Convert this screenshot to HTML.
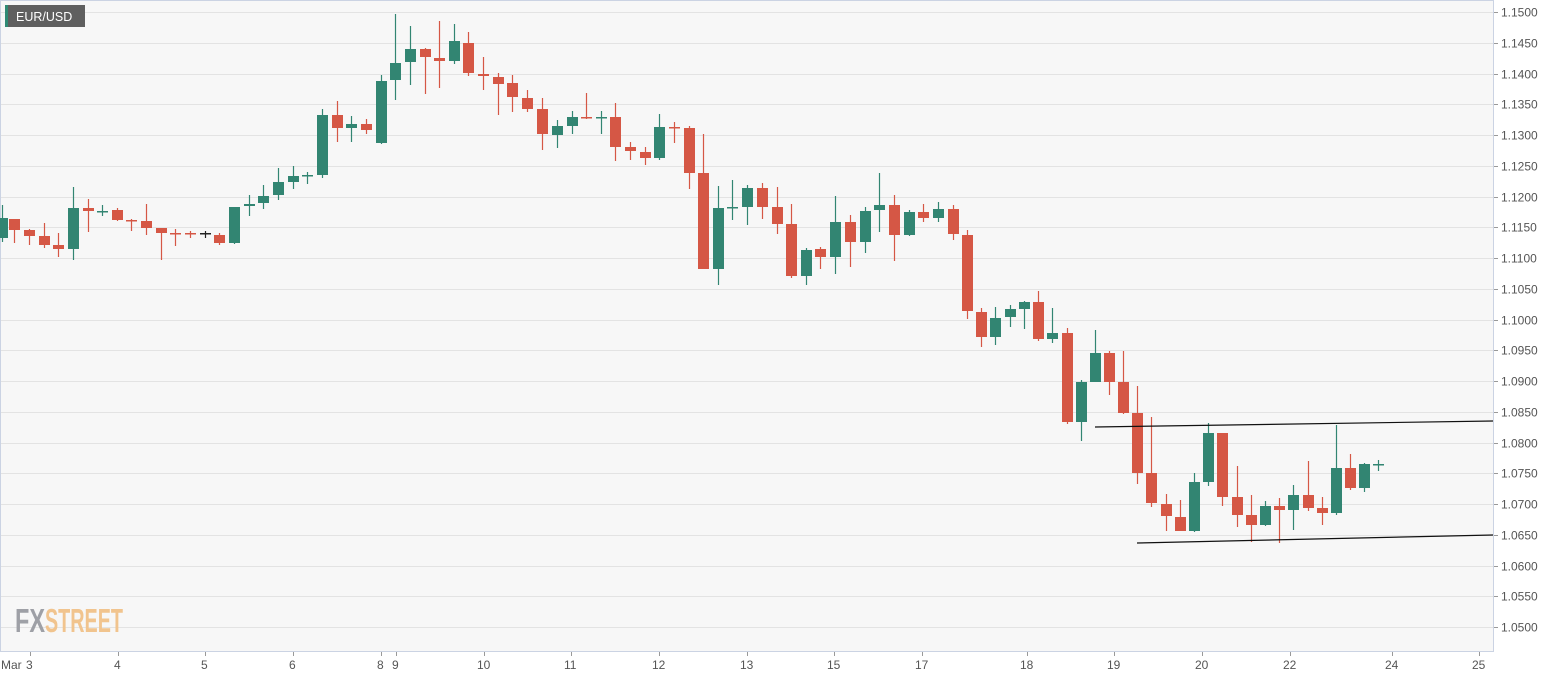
<!DOCTYPE html>
<html><head><meta charset="utf-8"><style>
html,body{margin:0;padding:0;background:#fff;}
svg{display:block;font-family:"Liberation Sans",sans-serif;}
</style></head><body>
<svg id="s" width="1565" height="678" xmlns="http://www.w3.org/2000/svg">
<rect x="0" y="0" width="1565" height="678" fill="#fff"/>
<rect x="0.5" y="0.5" width="1493" height="651" fill="#f7f7f7" stroke="#cbd3e3"/>
<g id="grid"></g>
<text x="15" y="632" font-size="33" font-weight="bold" fill="#9ea0a6" textLength="30" lengthAdjust="spacingAndGlyphs">FX</text>
<text x="45" y="632" font-size="33" font-weight="bold" fill="#f1c48e" textLength="78" lengthAdjust="spacingAndGlyphs">STREET</text>
<g id="c"></g>
<line x1="1095" y1="427" x2="1493" y2="421" stroke="#111" stroke-width="1.2"/>
<line x1="1137" y1="543" x2="1493" y2="535" stroke="#111" stroke-width="1.2"/>
<rect x="5" y="5" width="80" height="22" fill="#5f5f5f"/>
<rect x="5" y="5" width="3" height="22" fill="#2f8a74"/>
<text x="16" y="21" font-size="12.5" fill="#fff">EUR/USD</text>
<g id="ax" font-size="12" fill="#555"></g>
</svg>
<script>
var ns="http://www.w3.org/2000/svg";
function el(p,t,a,txt){var e=document.createElementNS(ns,t);for(var k in a)e.setAttribute(k,a[k]);if(txt)e.textContent=txt;document.getElementById(p).appendChild(e);}
for(var i=0;i<=20;i++){var y=12+i*30.75;var yy=Math.round(y)+0.5;
el('grid','line',{x1:1,x2:1493,y1:yy,y2:yy,stroke:'#e3e3e3'});
el('ax','line',{x1:1494,x2:1498,y1:yy,y2:yy,stroke:'#999'});
el('ax','text',{x:1501,y:yy+4},(1.15-i*0.005).toFixed(4));}
var xl=[["Mar",1],["3",26],["4",114],["5",201],["6",289],["8",377],["9",392],["10",477],["11",564],["12",652],["13",740],["15",827],["17",915],["18",1020],["19",1107],["20",1195],["22",1283],["24",1385],["25",1472]];
var tk=[30,118,205,293,381,396,484,571,659,747,834,922,1027,1114,1202,1290,1392,1479];
tk.forEach(function(x){el('ax','line',{x1:x+.5,x2:x+.5,y1:652,y2:656,stroke:'#999'});});
xl.forEach(function(a){el('ax','text',{x:a[1],y:669},a[0]);});
var C=[[2,205,218,238,242,'g'],[14,219,219,230,243,'r'],[29,229,230,236,245,'r'],[44,223,236,245,248,'r'],[58,233,245,249,257,'r'],[73,187,208,249,260,'g'],[88,199,208,211,232,'r'],[102,205,211,212,216,'g'],[117,208,210,220,221,'r'],[131,219,220,221,231,'r'],[146,204,221,228,235,'r'],[161,228,228,233,260,'r'],[175,229,233,234,246,'r'],[190,231,233,234,238,'r'],[205,231,233,234,238,'k'],[219,233,235,243,245,'r'],[234,207,207,243,244,'g'],[249,195,204,206,216,'g'],[263,185,196,203,209,'g'],[278,168,182,195,200,'g'],[293,166,176,182,189,'g'],[307,172,175,176,184,'g'],[322,109,115,175,178,'g'],[337,101,115,128,142,'r'],[351,116,124,128,142,'g'],[366,119,124,130,134,'r'],[381,75,81,143,144,'g'],[395,14,63,80,100,'g'],[410,26,49,62,85,'g'],[425,48,49,57,94,'r'],[439,21,58,61,88,'r'],[454,24,41,61,64,'g'],[468,32,43,73,76,'r'],[483,57,74,76,90,'r'],[498,73,77,84,115,'r'],[512,75,83,97,112,'r'],[527,90,98,109,112,'r'],[542,98,109,134,150,'r'],[557,120,126,135,148,'g'],[572,111,117,126,134,'g'],[586,93,117,118,119,'r'],[601,111,117,118,134,'g'],[615,103,117,147,161,'r'],[630,142,147,151,160,'r'],[645,147,152,158,165,'r'],[659,114,127,158,160,'g'],[674,122,127,128,143,'r'],[689,126,128,173,189,'r'],[703,134,173,269,269,'r'],[718,186,208,269,285,'g'],[732,180,207,208,220,'g'],[747,185,188,207,225,'g'],[762,183,188,207,219,'r'],[777,187,207,224,234,'r'],[791,204,224,276,278,'r'],[806,248,250,276,285,'g'],[820,247,249,257,269,'r'],[835,196,222,257,274,'g'],[850,215,222,242,267,'r'],[865,207,211,242,253,'g'],[879,173,205,210,232,'g'],[894,195,205,235,261,'r'],[909,210,212,235,236,'g'],[923,204,212,218,222,'r'],[938,202,209,218,222,'g'],[953,205,209,234,240,'r'],[967,230,235,311,319,'r'],[981,308,312,337,347,'r'],[995,307,318,337,345,'g'],[1010,305,309,317,327,'g'],[1024,301,302,309,329,'g'],[1038,291,302,339,341,'r'],[1052,308,333,339,343,'g'],[1067,328,333,422,424,'r'],[1081,380,382,422,441,'g'],[1095,330,353,382,382,'g'],[1109,351,353,382,395,'r'],[1123,351,382,413,414,'r'],[1137,386,413,473,484,'r'],[1151,417,473,503,507,'r'],[1166,494,504,516,531,'r'],[1180,500,517,531,531,'r'],[1194,473,482,531,532,'g'],[1208,423,433,482,486,'g'],[1222,433,433,497,506,'r'],[1237,466,497,515,527,'r'],[1251,495,515,525,542,'r'],[1265,501,506,525,526,'g'],[1279,498,506,510,543,'r'],[1293,485,495,510,530,'g'],[1308,461,495,508,511,'r'],[1322,497,508,513,525,'r'],[1336,425,468,513,515,'g'],[1350,454,468,488,490,'r'],[1364,463,464,488,492,'g'],[1378,460,464,465,471,'g']];
C.forEach(function(c){var col=c[5]=='g'?'#328572':(c[5]=='r'?'#d55745':'#222');
el('c','line',{x1:c[0]+.5,x2:c[0]+.5,y1:c[1],y2:c[4],stroke:col,'stroke-width':1.2});
var h=Math.max(1.5,c[3]-c[2]);
el('c','rect',{x:c[0]-5,y:c[2],width:11,height:h,fill:col});});
</script>
</body></html>
